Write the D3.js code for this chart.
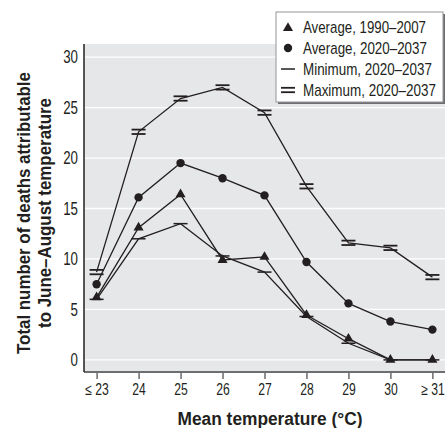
<head>
    <meta charset="utf-8">
    <style>
        body { margin: 0; background: #ffffff; }
        .lbl { font-family: "Liberation Sans", Arial, sans-serif; fill: #231f20; }
        .tick text { font-family: "Liberation Sans", Arial, sans-serif; fill: #231f20; }
    </style>
    <script src="https://d3js.org/d3.v7.min.js"></script>
</head>
<body>
<div id="chart"></div>
<script>
    // values
    var categories = ["≤ 23", "24", "25", "26", "27", "28", "29", "30", "≥ 31"];
    var avg1990 = [6.2, 13.1, 16.4, 9.9, 10.2, 4.45, 2.1, 0, 0];
    var avg2020 = [7.5, 16.1, 19.5, 18.0, 16.3, 9.7, 5.6, 3.8, 3.0];
    var min2020 = [6.0, 12.0, 13.5, 10.3, 8.7, 4.3, 1.65, 0, 0];
    var max2020 = [8.7, 22.6, 25.9, 27.0, 24.5, 17.2, 11.6, 11.1, 8.2];
    var yTicks = [0, 5, 10, 15, 20, 25, 30];
    var legendLabels = ["Average, 1990–2007", "Average, 2020–2037", "Minimum, 2020–2037", "Maximum, 2020–2037"];

    var W = 445, H = 428;
    var margin = { top: 44, right: 0, bottom: 56, left: 84 };
    var width = W - margin.left - margin.right,
        height = H - margin.top - margin.bottom;

    // the original uses a condensed face; squeeze Liberation Sans around its anchor
    function squeeze(sel, k) {
        sel.each(function() {
            var x0 = +d3.select(this).attr("x") || 0;
            d3.select(this)
                .attr("transform", `translate(${x0},0) scale(${k},1) translate(${-x0},0)`);
        });
    }

    // squeeze to a given width in px
    function fitTo(sel, w) {
        sel.each(function() {
            var n = this.getComputedTextLength();
            d3.select(this).call(squeeze, Math.min(1, w / n));
        });
    }

    var svg = d3.select("#chart").append("svg")
        .attr("width", W)
        .attr("height", H);

    var focus = svg.append("g")
        .attr("transform", `translate(${margin.left},${margin.top})`);

    focus.append("rect")
        .attr("width", width)
        .attr("height", height)
        .attr("fill", "#e6e7e8");

    var x = d3.scalePoint()
        .domain(categories)
        .range([0, width])
        .padding(0.3);

    var y = d3.scaleLinear()
        .domain([-1.2, 31.3])
        .range([height, 0]);

    // grid
    focus.append("g")
        .selectAll("line")
        .data(yTicks)
        .enter()
        .append("line")
        .attr("x1", 0)
        .attr("x2", width)
        .attr("y1", d => y(d))
        .attr("y2", d => y(d))
        .attr("stroke", "#ffffff")
        .attr("stroke-width", 1.3);

    var yx = focus.append("g")
        .call(d3.axisLeft(y).tickValues(yTicks).tickSize(0).tickPadding(6));
    yx.select("path").remove();
    yx.selectAll("text").attr("font-size", 18).call(squeeze, 0.74);

    var xx = focus.append("g")
        .attr("transform", `translate(0,${height})`)
        .call(d3.axisBottom(x).tickSize(7).tickPadding(5));
    xx.select("path").remove();
    xx.selectAll("line").attr("stroke", "#231f20");
    xx.selectAll("text").attr("font-size", 16).call(squeeze, 0.76);

    // axis lines
    focus.append("line")
        .attr("x1", 0).attr("x2", width)
        .attr("y1", height).attr("y2", height)
        .attr("stroke", "#6d6e71").attr("stroke-width", 2);
    focus.append("line")
        .attr("x1", 0).attr("x2", 0)
        .attr("y1", 0).attr("y2", height)
        .attr("stroke", "#231f20").attr("stroke-width", 1.5);

    var line = d3.line()
        .x((d, i) => x(categories[i]))
        .y(d => y(d));

    [max2020, min2020, avg2020, avg1990].forEach(function(s) {
        focus.append("path")
            .attr("d", line(s))
            .attr("fill", "none")
            .attr("stroke", "#231f20")
            .attr("stroke-width", 1.3);
    });

    var tri = d3.symbol().type(d3.symbolTriangle).size(44);

    function drawMarker(g, type, cx, cy) {
        if (type == 0) {
            g.append("path")
                .attr("d", tri())
                .attr("transform", `translate(${cx},${cy})`)
                .attr("fill", "#231f20");
        } else if (type == 1) {
            g.append("circle")
                .attr("cx", cx).attr("cy", cy).attr("r", 4.2)
                .attr("fill", "#231f20");
        } else if (type == 2) {
            g.append("line")
                .attr("x1", cx - 7).attr("x2", cx + 7)
                .attr("y1", cy).attr("y2", cy)
                .attr("stroke", "#231f20").attr("stroke-width", 1.5);
        } else {
            [-2.2, 2.2].forEach(function(o) {
                g.append("line")
                    .attr("x1", cx - 7).attr("x2", cx + 7)
                    .attr("y1", cy + o).attr("y2", cy + o)
                    .attr("stroke", "#231f20").attr("stroke-width", 1.8);
            });
        }
    }

    var marks = focus.append("g");
    [avg1990, avg2020, min2020, max2020].forEach(function(s, k) {
        s.forEach(function(v, i) {
            drawMarker(marks, k, x(categories[i]), y(v));
        });
    });

    // axis titles
    var yTitle = svg.append("g")
        .attr("transform", "translate(30,213) rotate(-90)");
    yTitle.append("text")
        .attr("class", "lbl")
        .attr("text-anchor", "middle")
        .attr("font-size", 17.5)
        .attr("font-weight", "bold")
        .text("Total number of deaths attributable")
        .call(fitTo, 282);
    yTitle.append("text")
        .attr("class", "lbl")
        .attr("y", 21.5)
        .attr("text-anchor", "middle")
        .attr("font-size", 17.5)
        .attr("font-weight", "bold")
        .text("to June–August temperature")
        .call(fitTo, 230);

    svg.append("text")
        .attr("class", "lbl")
        .attr("x", 270)
        .attr("y", 425)
        .attr("text-anchor", "middle")
        .attr("font-size", 18.5)
        .attr("font-weight", "bold")
        .text("Mean temperature (°C)")
        .call(fitTo, 185);

    // legend
    var legend = svg.append("g").attr("transform", "translate(276,12)");
    legend.append("rect")
        .attr("x", 2).attr("y", 2)
        .attr("width", 167).attr("height", 90)
        .attr("fill", "#6d6e71");
    legend.append("rect")
        .attr("width", 167).attr("height", 90)
        .attr("fill", "#ffffff")
        .attr("stroke", "#939598")
        .attr("stroke-width", 1);

    var legendWidths = [123, 124, 129, 133];
    legendLabels.forEach(function(t, k) {
        var ly = 15 + k * 21;
        drawMarker(legend, k, 12, k == 0 ? ly + 1 : ly);
        legend.append("text")
            .attr("class", "lbl")
            .attr("x", 27)
            .attr("y", ly + 6)
            .attr("font-size", 16)
            .text(t)
            .call(fitTo, legendWidths[k]);
    });
</script>
</body>
